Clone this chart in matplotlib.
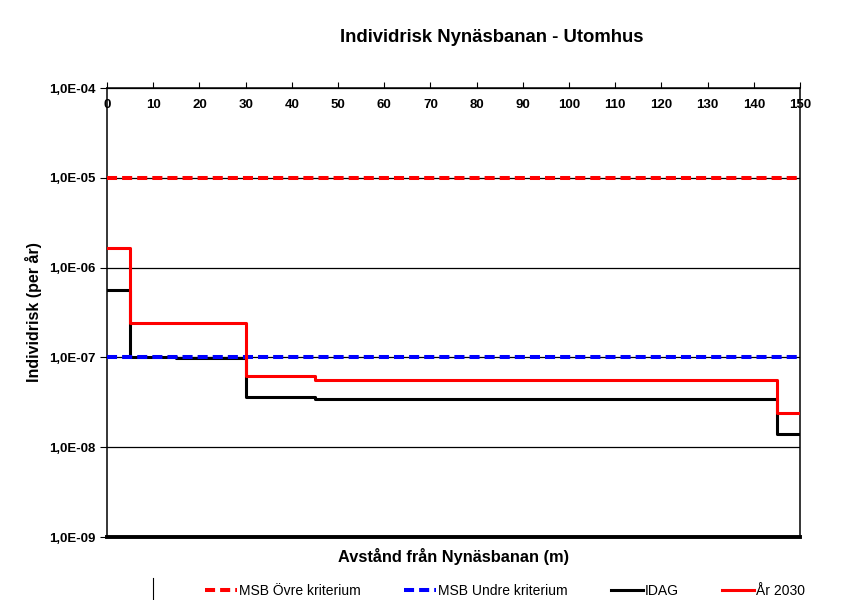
import numpy as np
import matplotlib
matplotlib.use('Agg')
import matplotlib.pyplot as plt
from matplotlib.ticker import FixedLocator, NullLocator, FuncFormatter

plt.rcParams['font.family'] = ['Liberation Sans', 'DejaVu Sans']

# data
avstand_idag = [0, 5, 15, 30, 45, 145, 150]
risk_idag = [5.6e-7, 1.0e-7, 9.8e-8, 3.6e-8, 3.4e-8, 1.4e-8, 1.4e-8]
avstand_2030 = [0, 5, 30, 45, 145, 150]
risk_2030 = [1.65e-6, 2.42e-7, 6.2e-8, 5.6e-8, 2.4e-8, 2.4e-8]
msb_ovre = 1e-5
msb_undre = 1e-7
x_ticks = list(range(0, 151, 10))
y_ticks = [1e-9, 1e-8, 1e-7, 1e-6, 1e-5, 1e-4]

fig = plt.figure(figsize=(8.42, 6), dpi=100)
ax = fig.add_axes([0.1271, 0.105, 0.823, 0.7483])

ax.plot([0, 150], [msb_ovre, msb_ovre], color='#ff0000', lw=2.9, dashes=(2.5, 1.25),
        label='MSB Övre kriterium', zorder=4.5)
ax.plot([0, 150], [msb_undre, msb_undre], color='#0000ff', lw=2.9, dashes=(2.5, 1.25),
        label='MSB Undre kriterium', zorder=4.5)
ax.step(avstand_idag, risk_idag, where='post', color='black', lw=2.2, label='IDAG', zorder=4)
ax.step(avstand_2030, risk_2030, where='post', color='#ff0000', lw=2.2, label='År 2030', zorder=5)

ax.set_yscale('log')
ax.set_ylim(1e-9, 1e-4)
ax.set_xlim(0, 150)
ax.yaxis.set_major_locator(FixedLocator(y_ticks))
ax.yaxis.set_minor_locator(NullLocator())
ax.yaxis.set_major_formatter(FuncFormatter(lambda v, p: '1,0E-%02d' % round(-np.log10(v))))
ax.grid(True, axis='y', which='major', color='black', lw=0.9, zorder=1)

ax.xaxis.tick_top()
ax.set_xticks(x_ticks)
ax.tick_params(axis='x', direction='out', length=4, pad=-20.5, labelsize=9.5)
ax.tick_params(axis='y', direction='out', length=5, labelsize=9.5)
for lab in ax.get_xticklabels() + ax.get_yticklabels():
    lab.set_fontweight('bold')

for s in ['top', 'right', 'left']:
    ax.spines[s].set_linewidth(1.1)
ax.spines['bottom'].set_linewidth(2.8)

ax.set_xlabel('Avstånd från Nynäsbanan (m)', fontsize=11.8, fontweight='bold', labelpad=8)
ax.set_ylabel('Individrisk (per år)', fontsize=11.5, fontweight='bold', labelpad=5)
fig.text(0.584, 0.938, 'Individrisk Nynäsbanan - Utomhus', ha='center', va='center',
         fontsize=13.3, fontweight='bold')

leg = ax.legend(loc='center', bbox_to_anchor=(0.6, 0.015), bbox_transform=fig.transFigure,
                ncol=4, frameon=False, handlelength=2.3, handletextpad=0.15,
                columnspacing=3.1, prop={'size': 10})
fig.add_artist(plt.Line2D([153 / 842, 153 / 842], [0, 22 / 600], color='black', lw=0.8))

fig.savefig('out.png', dpi=100)
